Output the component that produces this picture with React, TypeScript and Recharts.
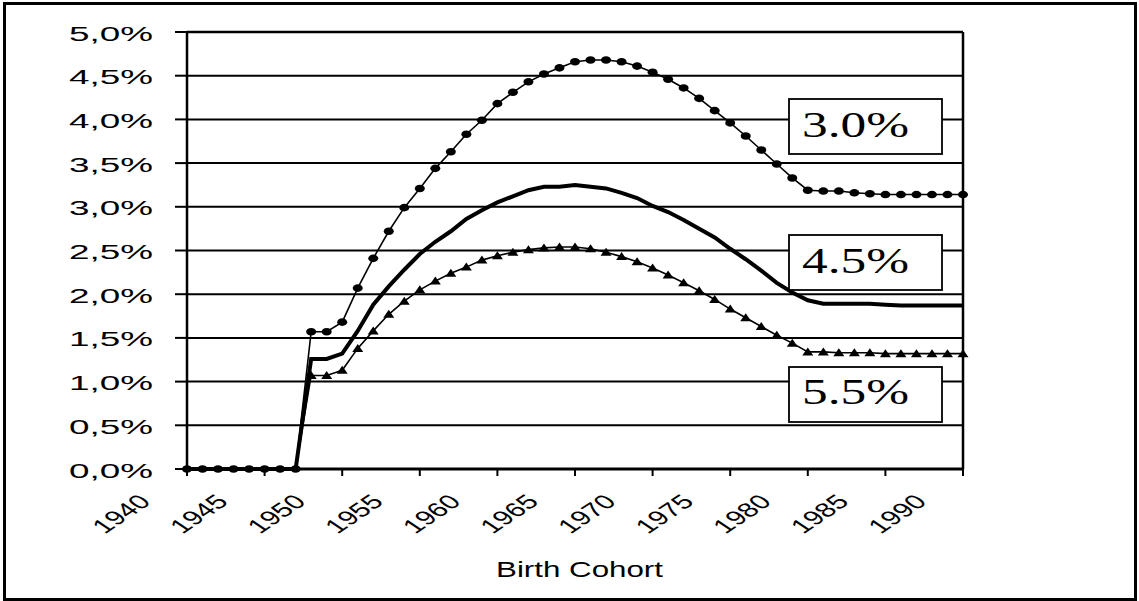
import React from 'react';
import { LineChart, Line, XAxis, YAxis, CartesianGrid, ReferenceLine } from 'recharts';

const years: number[] = [
  1940, 1941, 1942, 1943, 1944, 1945, 1946, 1947, 1948, 1949,
  1950, 1951, 1952, 1953, 1954, 1955, 1956, 1957, 1958, 1959,
  1960, 1961, 1962, 1963, 1964, 1965, 1966, 1967, 1968, 1969,
  1970, 1971, 1972, 1973, 1974, 1975, 1976, 1977, 1978, 1979,
  1980, 1981, 1982, 1983, 1984, 1985, 1986, 1987, 1988, 1989, 1990,
];

// rate 3.0% (dots)
const rate30: number[] = [
  0, 0, 0, 0, 0, 0, 0, 0, 1.57, 1.57,
  1.68, 2.07, 2.41, 2.72, 2.99, 3.21, 3.44, 3.63, 3.83, 3.99,
  4.18, 4.31, 4.43, 4.52, 4.59, 4.66, 4.68, 4.68, 4.66, 4.61,
  4.54, 4.46, 4.36, 4.24, 4.10, 3.96, 3.81, 3.65, 3.49, 3.33,
  3.19, 3.18, 3.18, 3.16, 3.15, 3.14, 3.14, 3.14, 3.14, 3.14, 3.14,
];

// rate 4.5% (thick line)
const rate45: number[] = [
  0, 0, 0, 0, 0, 0, 0, 0, 1.26, 1.26,
  1.32, 1.58, 1.88, 2.09, 2.28, 2.46, 2.60, 2.72, 2.86, 2.96,
  3.05, 3.12, 3.19, 3.23, 3.23, 3.25, 3.23, 3.21, 3.16, 3.10,
  3.01, 2.94, 2.85, 2.75, 2.65, 2.52, 2.40, 2.27, 2.13, 2.02,
  1.93, 1.89, 1.89, 1.89, 1.89, 1.88, 1.87, 1.87, 1.87, 1.87, 1.87,
];

// rate 5.5% (triangles)
const rate55: number[] = [
  0, 0, 0, 0, 0, 0, 0, 0, 1.07, 1.07,
  1.13, 1.38, 1.58, 1.77, 1.92, 2.05, 2.15, 2.24, 2.31, 2.39,
  2.44, 2.48, 2.51, 2.53, 2.54, 2.54, 2.52, 2.48, 2.43, 2.37,
  2.30, 2.22, 2.13, 2.04, 1.94, 1.83, 1.73, 1.63, 1.53, 1.44,
  1.34, 1.34, 1.33, 1.33, 1.33, 1.32, 1.32, 1.32, 1.32, 1.32, 1.32,
];

const xTicks: number[] = [1940, 1945, 1950, 1955, 1960, 1965, 1970, 1975, 1980, 1985, 1990];
const yTicks: number[] = [0, 0.5, 1, 1.5, 2, 2.5, 3, 3.5, 4, 4.5, 5];
const seriesLabels: string[] = ['3.0%', '4.5%', '5.5%'];
const axisTitle = 'Birth Cohort';

const data = years.map((y, i) => ({ year: y, r30: rate30[i], r45: rate45[i], r55: rate55[i] }));

const SANS = '"Liberation Sans", Arial, sans-serif';
const SERIF = '"Liberation Serif", "Times New Roman", serif';

// horizontal stretch 1.5 applied after a -45 degree rotation
const SX = 1.5;
const C45 = Math.SQRT1_2;

const XTick = (props: any) => {
  const { x, y, payload } = props;
  const tx = x - 35;
  const ty = y + 27;
  return (
    <text
      x={0}
      y={0}
      transform={`matrix(${SX * C45},${-C45},${SX * C45},${C45},${tx},${ty})`}
      textAnchor="end"
      fontFamily={SANS}
      fontSize={20}
      fill="#000"
    >
      {payload.value}
    </text>
  );
};

const YTick = (props: any) => {
  const { x, y, payload } = props;
  const label = payload.value.toFixed(1).replace('.', ',') + '%';
  return (
    <text
      x={x - 22 - 84}
      y={y + 8.5}
      textAnchor="start"
      fontFamily={SANS}
      fontSize={19.5}
      fill="#000"
      textLength={84}
      lengthAdjust="spacingAndGlyphs"
    >
      {label}
    </text>
  );
};

const EllipseDot = (props: any) => {
  const { cx, cy } = props;
  if (cx == null || cy == null) return null;
  return <ellipse cx={cx} cy={cy} rx={5} ry={3.8} fill="#000" />;
};

const TriDot = (props: any) => {
  const { cx, cy, value } = props;
  if (cx == null || cy == null || !value) return null;
  return (
    <polygon
      points={`${cx - 5.5},${cy + 3.5} ${cx + 5.5},${cy + 3.5} ${cx},${cy - 4.5}`}
      fill="#000"
    />
  );
};

const boxTops = [99, 235, 367];
const boxBaselines = [137, 273, 404];

export default function App() {
  return (
    <div style={{ position: 'absolute', left: 0, top: 0, width: 1139, height: 601, background: '#fff' }}>
      <LineChart
        width={1139}
        height={601}
        data={data}
        margin={{ top: 32, right: 176, left: 0, bottom: 92 }}
      >
        <CartesianGrid horizontal vertical={false} stroke="#000" strokeWidth={2} />
        <XAxis
          dataKey="year"
          type="number"
          domain={[1940, 1990]}
          ticks={xTicks}
          height={40}
          tickSize={7}
          tickMargin={0}
          tick={<XTick />}
          axisLine={{ stroke: '#000', strokeWidth: 3 }}
          tickLine={{ stroke: '#000', strokeWidth: 2 }}
          interval={0}
        />
        <YAxis
          type="number"
          domain={[0, 5]}
          ticks={yTicks}
          width={187}
          tickSize={12}
          tickMargin={0}
          tick={<YTick />}
          axisLine={{ stroke: '#000', strokeWidth: 2.5 }}
          tickLine={{ stroke: '#000', strokeWidth: 2 }}
          interval={0}
        />
        <ReferenceLine x={1990} stroke="#000" strokeWidth={2.5} />
        <ReferenceLine y={5} stroke="#000" strokeWidth={2.5} />
        <Line
          type="linear"
          dataKey="r45"
          stroke="#000"
          strokeWidth={4}
          dot={false}
          isAnimationActive={false}
        />
        <Line
          type="linear"
          dataKey="r55"
          stroke="#000"
          strokeWidth={1.6}
          dot={<TriDot />}
          isAnimationActive={false}
        />
        <Line
          type="linear"
          dataKey="r30"
          stroke="#000"
          strokeWidth={1.6}
          dot={<EllipseDot />}
          isAnimationActive={false}
        />
      </LineChart>
      <svg
        width={1139}
        height={601}
        style={{ position: 'absolute', left: 0, top: 0, pointerEvents: 'none' }}
      >
        {seriesLabels.map((s, i) => (
          <g key={s}>
            <rect x={789} y={boxTops[i]} width={153} height={55} fill="#fff" stroke="#000" strokeWidth={1.8} />
            <text
              x={802}
              y={boxBaselines[i]}
              fontFamily={SERIF}
              fontSize={36}
              fill="#000"
              textLength={107}
              lengthAdjust="spacingAndGlyphs"
            >
              {s}
            </text>
          </g>
        ))}
        <text
          x={496}
          y={577}
          fontFamily={SANS}
          fontSize={22}
          fill="#000"
          textLength={167}
          lengthAdjust="spacingAndGlyphs"
        >
          {axisTitle}
        </text>
      </svg>
      <div
        style={{
          position: 'absolute',
          left: 3,
          top: 2,
          width: 1134,
          height: 599,
          border: '3px solid #000',
          boxSizing: 'border-box',
          pointerEvents: 'none',
        }}
      />
    </div>
  );
}
